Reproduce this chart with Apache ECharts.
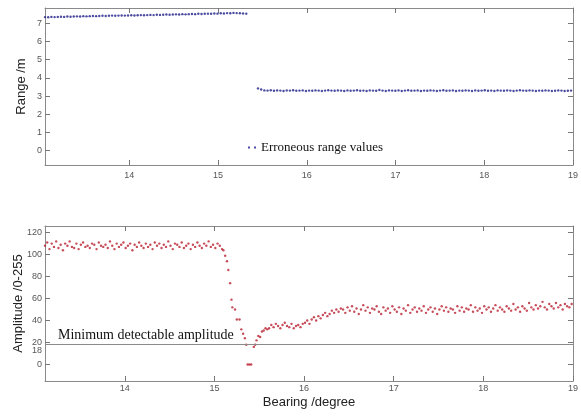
<!DOCTYPE html>
<html>
<head>
<meta charset="utf-8">
<script src="https://cdn.jsdelivr.net/npm/echarts@6/dist/echarts.min.js"></script>
<style>html,body{margin:0;padding:0;background:#fff;}#c{width:581px;height:417px;}</style>
</head>
<body>
<div id="c"></div>
<script>
// ---------- DATA ----------
const rangeTicksX = [14, 15, 16, 17, 18, 19];
const rangeTicksY = [0, 1, 2, 3, 4, 5, 6, 7];
const ampTicksY = [0, 18, 20, 40, 60, 80, 100, 120];

// Range plot, first segment (bearing 13.05 .. ~15.35)
const rangeSeg1Start = 13.05, rangeStep = 0.036;
const rangeSeg1 = [
  7.35,7.34,7.36,7.35,7.36,7.37,7.36,7.38,7.37,7.38,
  7.39,7.38,7.40,7.39,7.40,7.41,7.40,7.41,7.42,7.41,
  7.42,7.43,7.42,7.43,7.44,7.43,7.44,7.45,7.44,7.45,
  7.46,7.45,7.46,7.47,7.46,7.48,7.47,7.48,7.49,7.48,
  7.49,7.50,7.49,7.51,7.50,7.51,7.52,7.51,7.53,7.52,
  7.53,7.54,7.53,7.55,7.54,7.56,7.55,7.57,7.56,7.58,
  7.57,7.56,7.55,7.54
];
// Range plot, second segment (bearing 15.45 .. 19)
const rangeSeg2Start = 15.45;
const rangeSeg2 = [
  3.42,3.36,3.31,3.30,3.32,3.29,3.31,3.30,3.28,3.31,
  3.30,3.32,3.29,3.30,3.31,3.28,3.30,3.29,3.31,3.30,
  3.28,3.30,3.32,3.30,3.29,3.31,3.30,3.28,3.31,3.29,
  3.30,3.32,3.29,3.30,3.28,3.31,3.30,3.29,3.33,3.30,
  3.28,3.31,3.30,3.29,3.31,3.28,3.30,3.32,3.29,3.30,
  3.31,3.28,3.30,3.29,3.31,3.30,3.28,3.30,3.32,3.29,
  3.30,3.31,3.28,3.30,3.29,3.31,3.30,3.28,3.31,3.29,
  3.30,3.32,3.29,3.30,3.28,3.31,3.30,3.29,3.31,3.30,
  3.28,3.30,3.32,3.30,3.29,3.31,3.30,3.28,3.30,3.29,
  3.31,3.30,3.28,3.29,3.31,3.30,3.28,3.29,3.30
];

// Amplitude plot, plateau (bearing 13.11 .. 15.085)
const ampStart = 13.11, ampStep = 0.025;
const ampPlateau = [
  108,111,105,110,107,112,106,109,104,110,
  108,112,107,106,110,105,109,111,107,108,
  106,110,109,105,111,108,107,109,106,112,
  108,105,110,107,109,111,106,108,110,104,
  109,107,111,108,106,110,107,109,105,111,
  108,110,106,109,107,112,108,105,110,109,
  107,111,106,108,110,105,109,107,111,108,
  106,110,108,112,107,109,106,110,108,105
];
// Amplitude plot, drop and dip
const dropBearing = [15.10,15.12,15.14,15.155,15.175,15.19,15.20,15.23,15.25,15.28,15.30,15.32,15.34,15.355,15.37,15.39,15.41,15.44,15.455,15.47,15.49,15.51,15.53,15.55,15.57,15.59];
const dropAmp     = [104,  99,   94,   86,    74,    59,   52,   50,   41,   41,   32,   28,   24,   18,    0,    0,    0,    16,   18,    22,   26,   25,   30,   31,   33,   32];
// Amplitude plot, recovery (bearing 15.61 .. 18.985)
const recStart = 15.61;
const ampRecovery = [
  33,36,34,37,35,33,36,38,35,34,37,33,35,36,34,37,
  38,40,37,41,43,40,44,42,45,47,44,46,49,47,50,48,51,
  50,47,52,49,53,48,51,46,50,54,
  49,52,47,51,50,53,48,46,52,49,
  51,47,53,50,48,52,46,51,49,54,
  47,50,52,48,51,49,53,47,50,52,
  48,51,46,50,53,49,52,48,51,50,
  47,53,49,52,48,51,50,54,48,52,
  49,51,47,53,50,52,48,51,54,49,
  52,50,48,53,51,49,55,50,52,48,
  53,51,49,56,52,50,54,51,53,57,
  52,50,55,53,51,56,52,54,50,55,
  53,52,55
];
const minDetectable = 18;

// ---------- BUILD ----------
function seq(start, step, vals) { return vals.map((v, i) => [+(start + i * step).toFixed(4), v]); }
const rangeData1 = seq(rangeSeg1Start, rangeStep, rangeSeg1);
const rangeData2 = seq(rangeSeg2Start, rangeStep, rangeSeg2);
const ampData = seq(ampStart, ampStep, ampPlateau)
  .concat(dropBearing.map((b, i) => [b, dropAmp[i]]))
  .concat(seq(recStart, ampStep, ampRecovery));

const FRAME = '#8a8a8a';
const LBL = { fontFamily: 'Liberation Sans, Arial, sans-serif', fontSize: 9, color: '#555' };
const NAME = { fontFamily: 'Liberation Sans, Arial, sans-serif', fontSize: 13, color: '#222' };
const LINE = { show: true, onZero: false, lineStyle: { color: FRAME, width: 1 } };
const TICK = (vals) => ({ show: true, inside: true, length: 5, lineStyle: { color: '#777', width: 1 }, customValues: vals });

function xAx(grid, min, pos, labels) {
  return {
    type: 'value', gridIndex: grid, min: min, max: 19, position: pos,
    axisLine: LINE,
    splitLine: { show: false },
    axisTick: TICK(rangeTicksX),
    axisLabel: labels ? { margin: grid === 0 ? 6 : 3, customValues: rangeTicksX, ...LBL } : { show: false }
  };
}
function yAx(grid, min, max, pos, ticks, labels, extra) {
  return Object.assign({
    type: 'value', gridIndex: grid, min: min, max: max, position: pos,
    axisLine: LINE, splitLine: { show: false },
    axisTick: TICK(ticks),
    axisLabel: labels ? { margin: 3, customValues: ticks, ...LBL } : { show: false }
  }, extra || {});
}

const option = {
  animation: false,
  backgroundColor: '#fff',
  grid: [
    { left: 45, top: 8, width: 528, height: 157, show: false, containLabel: false, outerBoundsMode: 'none' },
    { left: 45, top: 226, width: 528, height: 155, show: false, containLabel: false, outerBoundsMode: 'none' }
  ],
  legend: {
    data: ['Erroneous range values'],
    left: 248, top: 141, padding: 0,
    itemWidth: 8, itemHeight: 2, itemGap: 5,
    icon: 'path://M0 0h2v2h-2zM6 0h2v2h-2z',
    textStyle: { fontFamily: 'Liberation Serif, Times New Roman, serif', fontSize: 13, color: '#111' }
  },
  xAxis: [
    xAx(0, 13.05, 'bottom', true),
    xAx(0, 13.05, 'top', false),
    Object.assign(xAx(1, 13.11, 'bottom', true), {
      name: 'Bearing /degree', nameLocation: 'middle', nameGap: 15, nameTextStyle: NAME, nameMoveOverlap: false
    }),
    xAx(1, 13.11, 'top', false)
  ],
  yAxis: [
    yAx(0, -0.8, 7.85, 'left', rangeTicksY, true,
      { name: 'Range /m', nameLocation: 'middle', nameGap: 17, nameTextStyle: NAME, nameMoveOverlap: false }),
    yAx(0, -0.8, 7.85, 'right', rangeTicksY, false),
    yAx(1, -15, 126, 'left', ampTicksY, true, {
      name: 'Amplitude /0-255', nameLocation: 'middle', nameGap: 20, nameTextStyle: NAME, nameMoveOverlap: false,
      axisLabel: {
        margin: 3, customValues: ampTicksY, ...LBL,
        formatter: v => v === 18 ? '{lo|18}' : String(v),
        rich: { lo: { padding: [11, 0, 0, 0], fontSize: 9, color: '#555', fontFamily: 'Liberation Sans, Arial, sans-serif' } }
      }
    }),
    yAx(1, -15, 126, 'right', ampTicksY.filter(v => v !== 18), false)
  ],
  series: [
    {
      name: 'Erroneous range values', type: 'scatter', xAxisIndex: 0, yAxisIndex: 0,
      data: rangeData1.concat(rangeData2), symbol: 'circle', symbolSize: 2.4,
      itemStyle: { color: '#1e1e88' }
    },
    {
      name: 'Amplitude', type: 'scatter', xAxisIndex: 2, yAxisIndex: 2,
      data: ampData, symbol: 'circle', symbolSize: 2.4,
      itemStyle: { color: '#b8202f' },
      markLine: {
        silent: true, symbol: 'none', animation: false,
        lineStyle: { color: '#8a8a8a', type: 'solid', width: 1 },
        label: {
          show: true, position: 'insideStartTop', distance: [13, 2],
          formatter: 'Minimum detectable amplitude',
          fontFamily: 'Liberation Serif, Times New Roman, serif', fontSize: 14, color: '#111'
        },
        data: [{ yAxis: minDetectable }]
      }
    }
  ]
};

const chart = echarts.init(document.getElementById('c'), null, { renderer: 'canvas' });
chart.setOption(option);
</script>
</body>
</html>
